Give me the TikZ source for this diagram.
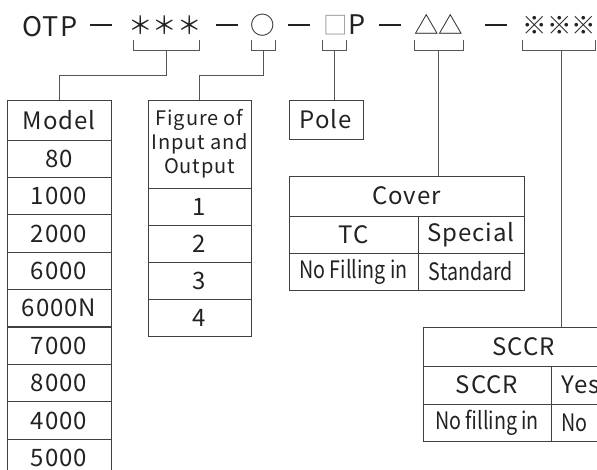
\documentclass[tikz,border=0pt]{standalone}
\usepackage{fontspec}
\setmainfont{Noto Sans CJK JP}[LetterSpace=4]
\newfontfamily\tightfont{Noto Sans CJK JP}[FakeStretch=0.82]
\newfontfamily\symfont{Noto Sans CJK JP}
\definecolor{ink}{HTML}{222222}
\definecolor{rule}{HTML}{404040}
\definecolor{wire}{HTML}{555555}
\begin{document}
\begin{tikzpicture}[x=1pt, y=-1pt,
  every node/.style={font=\fontsize{24}{28}\selectfont, text=ink},
  head/.style={anchor=base, inner sep=0pt, font=\fontsize{27}{27}\selectfont},
  sym/.style={head, font=\symfont\fontsize{24.5}{24}\selectfont},
  tight/.style={font=\tightfont\fontsize{24}{28}\selectfont},
  cell/.style={draw=rule, line width=.9pt, inner sep=0pt, minimum height=37.3pt},
  link/.style={draw=wire, line width=.9pt}]
  \useasboundingbox (0,0) rectangle (597,470);
  \clip (0,0) rectangle (597,470);
  % code line
  \node[head] (otp) at (50,37) {OTP};
  \foreach \x [count=\i] in {101,226.5,299,390,496}
    \node[head] (d\i) at (\x,37) {\textcolor{ink}{\rule[10.5pt]{22pt}{2.3pt}}};
  \node[sym] (mdl) at (165,35) {＊＊＊};
  \node[sym] (fig) at (263,35) {○};
  \node[sym] (pol) at (344.5,35) {\textcolor{black!40}{□}\normalfont\fontsize{27}{27}\selectfont P};
  \node[sym] (cov) at (438.5,35) {△△};
  \node[sym] (scr) at (559.5,35) {※※※};
  % brackets under the code
  \foreach \l/\r/\s/\n in {133/199/166/mdl, 251/275/263/fig, 322/346/334/pol,
                           414/463/438.5/cov, 522/595/561/scr}{
    \draw[link] (\l,40) -- (\l,50) -- (\r,50) -- (\r,40);
    \coordinate (b\n) at (\s,50);
  }
  % model table
  \node[cell, minimum width=104pt, minimum height=40pt] (model) at (59,120) {Model};
  \foreach \v [count=\i] in {80,1000,2000,6000,6000N,7000,8000,4000,5000}
    \node[cell, minimum width=104pt] (m\i) at (59,{140+37.4*(\i-.5)}) {\v};
  % input and output
  \node[cell, minimum width=103pt, minimum height=88pt, align=center,
        font=\fontsize{20}{24}\selectfont] (figure) at (199.5,144)
        {Figure of\\Input and\\Output};
  \foreach \v in {1,...,4}
    \node[cell, minimum width=103pt, minimum height=37pt] (f\v) at (199.5,{188+37*(\v-.5)}) {\v};
  % pole
  \node[cell, minimum width=74pt, minimum height=39pt] (pole) at (326,119.5) {Pole};
  % cover
  \node[cell, minimum width=235pt, minimum height=40pt] (cover) at (406.5,196) {Cover};
  \node[cell, minimum width=129pt, minimum height=37pt] (c1) at (353.5,234.5) {TC};
  \node[cell, minimum width=106pt, minimum height=37pt] (c2) at (471,234.5) {Special};
  \node[cell, tight, minimum width=129pt, minimum height=37pt] (c3) at (353.5,271.5) {No Filling in};
  \node[cell, tight, minimum width=106pt, minimum height=37pt] (c4) at (471,271.5) {Standard};
  % sccr
  \node[cell, minimum width=201pt, minimum height=39pt] (sccr) at (523.5,346.5) {SCCR};
  \node[cell, minimum width=128pt, minimum height=38pt] (s1) at (487,385) {SCCR};
  \node[cell, minimum width=73pt, minimum height=38pt, text width=52pt, align=left]
    (s2) at (587.5,385) {Yes};
  \node[cell, tight, minimum width=128pt, minimum height=37pt] (s3) at (487,422.5) {No filling in};
  \node[cell, tight, minimum width=73pt, minimum height=37pt, text width=52pt, align=left]
    (s4) at (587.5,422.5) {No};
  % connectors
  \draw[link] (bmdl) -- ++(0,25) -| (model.north);
  \draw[link] (bfig) -- ++(0,25) -| (figure.north);
  \draw[link] (bpol) -- (bpol |- pole.north);
  \draw[link] (bcov) -- (bcov |- cover.north);
  \draw[link] (bscr) -- (bscr |- sccr.north);
\end{tikzpicture}
\end{document}
